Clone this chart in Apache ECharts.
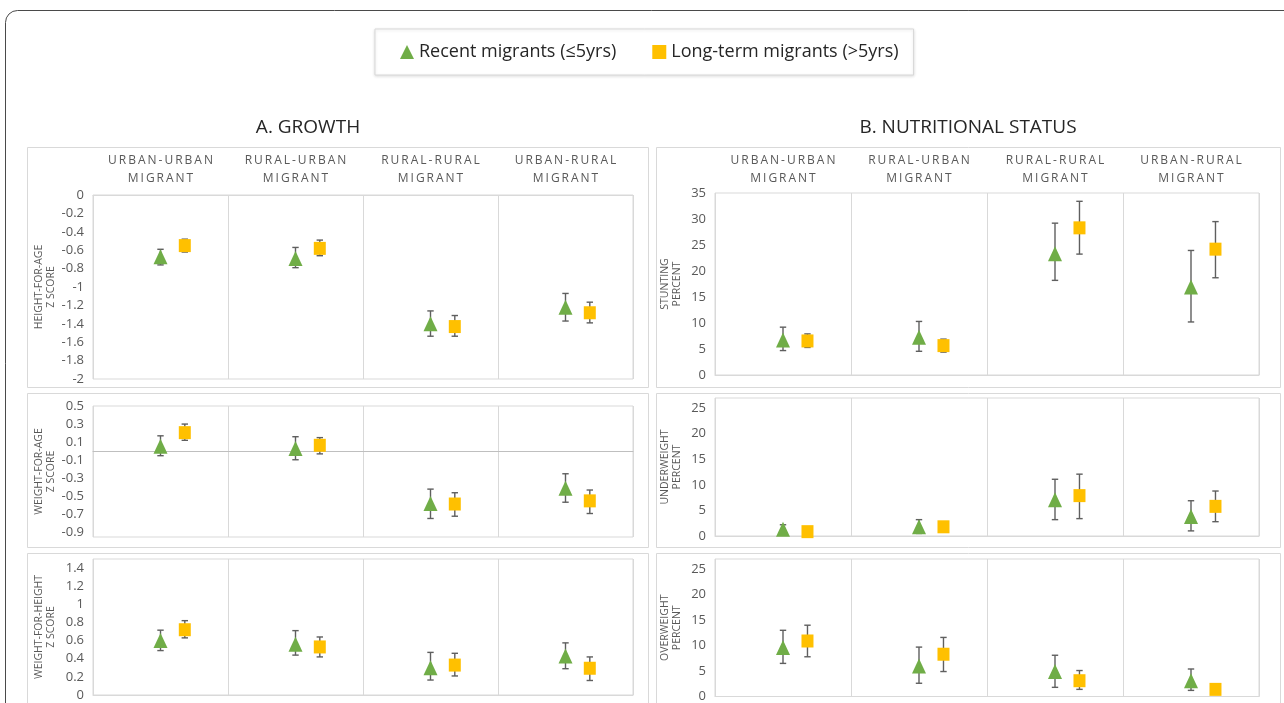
<!DOCTYPE html>
<html><head><meta charset="utf-8">
<script src="https://cdn.jsdelivr.net/npm/echarts@6/dist/echarts.min.js"></script>
<style>html,body{margin:0;padding:0;background:#fff}#c{width:1284px;height:703px}</style>
</head><body><div id="c"></div>
<script>
// ---------- DATA ----------
const categories = ['URBAN-URBAN\nMIGRANT', 'RURAL-URBAN\nMIGRANT', 'RURAL-RURAL\nMIGRANT', 'URBAN-RURAL\nMIGRANT'];
const seriesNames = ['Recent migrants (≤5yrs)', 'Long-term migrants (>5yrs)'];
const panelTitles = ['A. GROWTH', 'B. NUTRITIONAL STATUS'];
const yNames = ['HEIGHT-FOR-AGE\nZ SCORE', 'WEIGHT-FOR-AGE\nZ SCORE', 'WEIGHT-FOR-HEIGHT\nZ SCORE',
                'STUNTING\nPERCENT', 'UNDERWEIGHT\nPERCENT', 'OVERWEIGHT\nPERCENT'];

// Height-for-age z score
const hfaRecent     = [-0.67, -0.69, -1.40, -1.22];
const hfaRecentLow  = [-0.76, -0.79, -1.535, -1.37];
const hfaRecentHigh = [-0.59, -0.57, -1.26, -1.07];
const hfaLong       = [-0.55, -0.58, -1.43, -1.28];
const hfaLongLow    = [-0.62, -0.66, -1.535, -1.39];
const hfaLongHigh   = [-0.48, -0.49, -1.31, -1.165];
const hfaTicks = [0, -0.2, -0.4, -0.6, -0.8, -1, -1.2, -1.4, -1.6, -1.8, -2];

// Weight-for-age z score
const wfaRecent     = [0.055, 0.03, -0.58, -0.41];
const wfaRecentLow  = [-0.05, -0.095, -0.745, -0.565];
const wfaRecentHigh = [0.17, 0.16, -0.42, -0.25];
const wfaLong       = [0.205, 0.065, -0.585, -0.55];
const wfaLongLow    = [0.12, -0.03, -0.72, -0.69];
const wfaLongHigh   = [0.30, 0.15, -0.46, -0.43];
const wfaTicks = [0.5, 0.3, 0.1, -0.1, -0.3, -0.5, -0.7, -0.9];

// Weight-for-height z score
const wfhRecent     = [0.60, 0.56, 0.30, 0.43];
const wfhRecentLow  = [0.49, 0.44, 0.165, 0.29];
const wfhRecentHigh = [0.715, 0.71, 0.47, 0.575];
const wfhLong       = [0.72, 0.53, 0.33, 0.295];
const wfhLongLow    = [0.63, 0.42, 0.21, 0.16];
const wfhLongHigh   = [0.82, 0.64, 0.46, 0.42];
const wfhTicks = [0, 0.2, 0.4, 0.6, 0.8, 1, 1.2, 1.4];

// Stunting percent
const stuRecent     = [6.74, 7.26, 23.3, 16.9];
const stuRecentLow  = [4.7, 4.56, 18.2, 10.2];
const stuRecentHigh = [9.2, 10.3, 29.2, 23.95];
const stuLong       = [6.55, 5.65, 28.3, 24.2];
const stuLongLow    = [5.3, 4.4, 23.25, 18.7];
const stuLongHigh   = [7.9, 6.9, 33.4, 29.5];
const stuTicks = [0, 5, 10, 15, 20, 25, 30, 35];

// Underweight percent
const undRecent     = [1.3, 1.8, 7.1, 3.8];
const undRecentLow  = [0.5, 0.5, 3.2, 1.0];
const undRecentHigh = [2.2, 3.2, 11.1, 6.9];
const undLong       = [0.85, 1.8, 7.9, 5.8];
const undLongLow    = [0.5, 1.3, 3.4, 2.8];
const undLongHigh   = [1.2, 2.3, 12.1, 8.8];

// Overweight percent
const ovwRecent     = [9.6, 6.0, 4.9, 3.1];
const ovwRecentLow  = [6.5, 2.6, 1.8, 1.2];
const ovwRecentHigh = [13.0, 9.7, 8.1, 5.4];
const ovwLong       = [10.9, 8.3, 3.1, 1.4];
const ovwLongLow    = [7.8, 4.9, 1.4, 0.9];
const ovwLongHigh   = [14.0, 11.6, 5.1, 1.9];
const pctTicks = [0, 5, 10, 15, 20, 25];

// ---------- LAYOUT / STYLE ----------
const FONT = '"Open Sans", "Noto Sans", sans-serif';
const GREEN = '#70AD47', GOLD = '#FFC000', ERR = '#5f5f5f', BORDER = '#d9d9d9', LABEL = '#595959';
const TRI_OFF = 0.5, SQ_OFF = 0.68;

const panels = [
  {grid:{left:93, top:195, width:540, height:184}, y:{min:-2, max:0, interval:0.2}, ticks:hfaTicks, header:true, hm:7, zeroLine:false,
   d:[hfaRecent,hfaRecentLow,hfaRecentHigh,hfaLong,hfaLongLow,hfaLongHigh], nameGap:36, box:[27,147,621,240]},
  {grid:{left:93, top:406, width:540, height:131}, y:{min:-0.95, max:0.5, interval:0.05}, ticks:wfaTicks, header:false, hm:7, zeroLine:true,
   d:[wfaRecent,wfaRecentLow,wfaRecentHigh,wfaLong,wfaLongLow,wfaLongHigh], nameGap:36, box:[27,393,621,154]},
  {grid:{left:93, top:559, width:540, height:136}, y:{min:0, max:1.5, interval:0.1}, ticks:wfhTicks, header:false, hm:7, zeroLine:false,
   d:[wfhRecent,wfhRecentLow,wfhRecentHigh,wfhLong,wfhLongLow,wfhLongHigh], nameGap:36, box:[27,553,621,200]},
  {grid:{left:715, top:193, width:544, height:182}, y:{min:0, max:35, interval:5}, ticks:stuTicks, header:true, hm:5, zeroLine:false,
   d:[stuRecent,stuRecentLow,stuRecentHigh,stuLong,stuLongLow,stuLongHigh], nameGap:32, box:[656,147,624,240]},
  {grid:{left:715, top:398, width:544, height:138}, y:{min:0, max:27, interval:1}, ticks:pctTicks, header:false, hm:5, zeroLine:false,
   d:[undRecent,undRecentLow,undRecentHigh,undLong,undLongLow,undLongHigh], nameGap:32, box:[656,393,624,154]},
  {grid:{left:715, top:559, width:544, height:139}, y:{min:0, max:27, interval:1}, ticks:pctTicks, header:false, hm:5, zeroLine:false,
   d:[ovwRecent,ovwRecentLow,ovwRecentHigh,ovwLong,ovwLongLow,ovwLongHigh], nameGap:32, box:[656,553,624,200]}
];

function spaced(s){ return s.split('\n').map(l => l.split('').join('\u2009')).join('\n'); }
function fmtTick(ticks){
  return function(v){
    for (const t of ticks){ if (Math.abs(v - t) < 1e-6) return String(t); }
    return '';
  };
}
function renderErr(params, api){
  const x = api.value(0), lo = api.value(1), hi = api.value(2);
  const a = api.coord([x, hi]), b = api.coord([x, lo]);
  const w = 3.2;
  const st = {stroke: ERR, lineWidth: 1.4};
  return {type:'group', children:[
    {type:'line', shape:{x1:a[0], y1:a[1], x2:b[0], y2:b[1]}, style:st},
    {type:'line', shape:{x1:a[0]-w, y1:a[1], x2:a[0]+w, y2:a[1]}, style:st},
    {type:'line', shape:{x1:b[0]-w, y1:b[1], x2:b[0]+w, y2:b[1]}, style:st}
  ]};
}

const grid = [], xAxis = [], yAxis = [], series = [];
const graphic = [];
graphic.push({type:'rect', z:-20, shape:{x:5.5, y:10.5, width:1400, height:800, r:12},
  style:{fill:'#fff', stroke:'#4a4a4a', lineWidth:1}});
panels.forEach((p, i) => {
  graphic.push({type:'rect', z:-10, shape:{x:p.box[0]+0.5, y:p.box[1]+0.5, width:p.box[2], height:p.box[3]},
    style:{fill:'#fff', stroke:BORDER, lineWidth:1}});
  grid.push(Object.assign({show:true, borderColor:BORDER, borderWidth:1, backgroundColor:'transparent'}, p.grid));
  xAxis.push({
    type:'category', gridIndex:i, data:categories, position: p.header ? 'top' : 'bottom',
    boundaryGap:true,
    axisLine:{show:true, onZero:true, lineStyle:{color: p.zeroLine ? '#bfbfbf' : BORDER, width:1}},
    axisTick:{show:false, interval:0},
    axisLabel:{show:p.header, interval:0, color:LABEL, fontFamily:FONT, fontSize:12, lineHeight:18, margin:p.hm,
               formatter: v => spaced(v)},
    splitLine:{show:true, interval:0, lineStyle:{color:BORDER, width:1}}
  });
  xAxis.push({type:'value', gridIndex:i, min:0, max:4, show:false});
  yAxis.push({
    type:'value', gridIndex:i, min:p.y.min, max:p.y.max, interval:p.y.interval,
    axisLine:{show:false}, axisTick:{show:false}, splitLine:{show:false},
    axisLabel:{color:LABEL, fontFamily:FONT, fontSize:13, margin:9, formatter: fmtTick(p.ticks)},
    name: yNames[i], nameLocation:'middle', nameRotate:90, nameGap:p.nameGap,
    nameTextStyle:{color:LABEL, fontFamily:FONT, fontSize:10.5, lineHeight:12}
  });
  const vx = 2*i + 1;
  const [rv, rl, rh, lv, ll, lh] = p.d;
  series.push({type:'custom', name:'errR'+i, xAxisIndex:vx, yAxisIndex:i, z:3, renderItem:renderErr,
    encode:{x:0, y:[1,2]}, data: rv.map((v,k) => [k+TRI_OFF, rl[k], rh[k]]), silent:true});
  series.push({type:'custom', name:'errL'+i, xAxisIndex:vx, yAxisIndex:i, z:3, renderItem:renderErr,
    encode:{x:0, y:[1,2]}, data: lv.map((v,k) => [k+SQ_OFF, ll[k], lh[k]]), silent:true});
  series.push({type:'scatter', name:seriesNames[0], xAxisIndex:vx, yAxisIndex:i, z:4, symbol:'triangle',
    symbolSize:[14,15], itemStyle:{color:GREEN, opacity:1}, data: rv.map((v,k) => [k+TRI_OFF, v])});
  series.push({type:'scatter', name:seriesNames[1], xAxisIndex:vx, yAxisIndex:i, z:4, symbol:'rect',
    symbolSize:[12,13], itemStyle:{color:GOLD, opacity:1}, data: lv.map((v,k) => [k+SQ_OFF, v])});
});
graphic.push({type:'text', x:308, y:128, style:{text:panelTitles[0], fill:'#262626', font:'19px '+FONT, textAlign:'center', textVerticalAlign:'middle'}});
graphic.push({type:'text', x:968, y:128, style:{text:panelTitles[1], fill:'#262626', font:'19px '+FONT, textAlign:'center', textVerticalAlign:'middle'}});

const chart = echarts.init(document.getElementById('c'), null, {renderer:'canvas'});
chart.setOption({
  animation:false,
  backgroundColor:'#fff',
  textStyle:{fontFamily:FONT},
  graphic: graphic,
  legend:{
    data:[{name:seriesNames[0], icon:'triangle'}, {name:seriesNames[1], icon:'rect'}],
    left:375, top:29, itemWidth:14, itemHeight:14, itemGap:36,
    padding:[14, 15, 14, 25], borderColor:BORDER, borderWidth:1, backgroundColor:'#fff',
    shadowColor:'rgba(0,0,0,0.12)', shadowBlur:3, shadowOffsetY:1,
    textStyle:{color:'#262626', fontFamily:FONT, fontSize:18}
  },
  grid, xAxis, yAxis, series
});
</script>
</body></html>
